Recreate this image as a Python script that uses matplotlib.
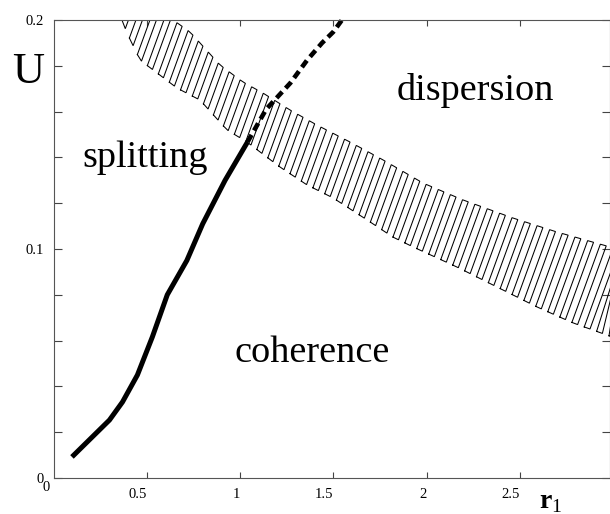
import numpy as np
import matplotlib
matplotlib.use('Agg')
import matplotlib.pyplot as plt

plt.rcParams['font.family'] = ['Liberation Serif', 'DejaVu Serif']
plt.rcParams['mathtext.fontset'] = 'custom'
plt.rcParams['mathtext.rm'] = 'Liberation Serif'
plt.rcParams['mathtext.bf'] = 'Liberation Serif:bold'

# boundary between splitting and coherence (solid) and its continuation (dashed)
solid_r = [0.099, 0.30, 0.37, 0.45, 0.53, 0.61, 0.715, 0.80, 0.92, 1.04]
solid_u = [0.0092, 0.0253, 0.0332, 0.045, 0.0616, 0.080, 0.095, 0.111, 0.130, 0.1467]
dash_r = [1.04, 1.14, 1.27, 1.36, 1.44, 1.50, 1.56]
dash_u = [0.1467, 0.161, 0.1725, 0.1825, 0.190, 0.1948, 0.2015]

# hatched transition band (upper and lower edges)
band_up_r = [0.367, 0.641, 0.732, 0.893, 1.016, 1.123, 1.268, 1.413, 1.590, 1.767,
             1.981, 2.196, 2.464, 2.700, 2.984, 3.05]
band_up_u = [0.2, 0.2, 0.1948, 0.1803, 0.1729, 0.1681, 0.1607, 0.1541, 0.1467, 0.1389,
             0.1288, 0.1214, 0.1135, 0.1074, 0.1009, 0.0995]
band_lo_r = [0.367, 0.394, 0.464, 0.555, 0.662, 0.786, 0.930, 1.038, 1.107, 1.214,
             1.359, 1.499, 1.681, 1.820, 1.928, 2.164, 2.378, 2.592, 2.786, 2.968, 3.05]
band_lo_u = [0.2, 0.1943, 0.1825, 0.1769, 0.1703, 0.1650, 0.152, 0.1467, 0.1424, 0.1358,
             0.128, 0.1223, 0.1127, 0.1052, 0.1009, 0.0921, 0.0834, 0.0747, 0.0677, 0.0624, 0.060]

xticks = [0.5, 1, 1.5, 2, 2.5]
xticklabels = ['0.5', '1', '1.5', '2', '2.5']
yticks = [0, 0.1, 0.2]
yticklabels = ['0', '0.1', '0.2']

W, H = 610, 514
fig = plt.figure(figsize=(W / 100, H / 100), dpi=100)
ax = fig.add_axes([53.5 / W, 1 - 478 / H, (609.5 - 53.5) / W, (478 - 20) / H])
ax.set_xlim(0, 2.981)
ax.set_ylim(0, 0.2)

# hatch boxes: thin steep rectangles between the two band edges
to_px = ax.transData
to_data = ax.transData.inverted()
up = to_px.transform(np.column_stack([band_up_r, band_up_u]))
lo = to_px.transform(np.column_stack([band_lo_r, band_lo_u]))
m = 1 / np.tan(np.radians(70))
g_up = up[:, 0] - m * up[:, 1]
g_lo = lo[:, 0] - m * lo[:, 1]


def hit(c, g, pts):
    x = np.interp(c, g, pts[:, 0])
    y = np.interp(x, pts[:, 0], pts[:, 1])
    return x, y


period, width = 14.0, 6.5
c = min(g_up[0], g_lo[0]) - period
while c < max(g_up[-1], g_lo[-1]) + period:
    corners = [hit(c, g_lo, lo), hit(c, g_up, up),
               hit(c + width, g_up, up), hit(c + width, g_lo, lo)]
    corners.append(corners[0])
    d = to_data.transform(np.array(corners))
    ax.plot(d[:, 0], d[:, 1], color='black', lw=0.75, solid_joinstyle='miter')
    c += period

ax.plot(solid_r, solid_u, color='black', lw=3.6, solid_capstyle='butt')
ax.plot(dash_r, dash_u, color='black', lw=3.3, linestyle=(0, (1.8, 1.1)),
        dash_capstyle='butt', clip_on=False)

# ticks
ax.set_xticks(xticks)
ax.set_xticklabels(xticklabels)
ax.set_yticks(yticks)
ax.set_yticklabels(yticklabels)
ax.set_yticks(np.arange(0, 0.201, 0.02), minor=True)
ax.tick_params(axis='both', which='both', direction='in', colors='#444',
               labelcolor='black', width=0.8, labelsize=10.5)
ax.tick_params(axis='x', which='major', top=True, length=4, pad=7)
ax.tick_params(axis='y', which='both', right=True, length=6, pad=7)
for lab in ax.get_xticklabels():
    lab.set_ha('right')
for sp in ax.spines.values():
    sp.set_color('#555')
    sp.set_linewidth(0.8)


def px(x, y):
    return x / W, 1 - y / H


fig.text(*px(46, 491), '0', fontsize=10.5, ha='center', va='baseline')
fig.text(*px(28, 83), 'U', fontsize=32, ha='center', va='baseline')
fig.text(*px(82, 167), 'splitting', fontsize=27.5, ha='left', va='baseline')
fig.text(*px(397, 100), 'dispersion', fontsize=27.5, ha='left', va='baseline')
fig.text(*px(235, 362), 'coherence', fontsize=27.5, ha='left', va='baseline')
fig.text(*px(539, 508), r'$\mathbf{r}_{1}$', fontsize=20, ha='left', va='baseline')

fig.savefig('out.png', dpi=100)
